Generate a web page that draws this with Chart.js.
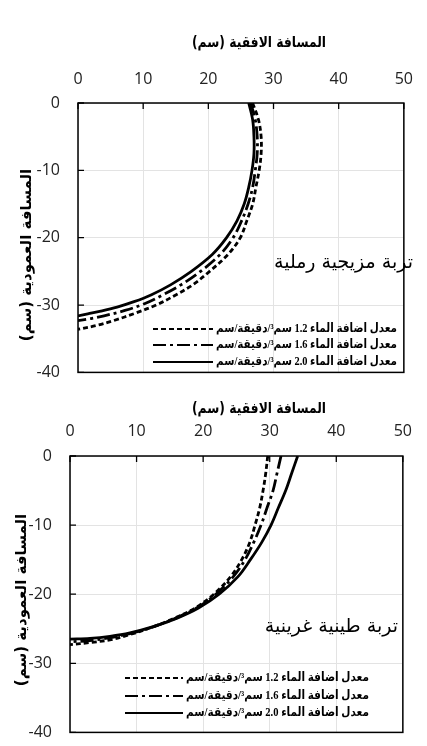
<!DOCTYPE html>
<html>
<head>
<meta charset="utf-8">
<script src="https://cdn.jsdelivr.net/npm/chart.js@4.4.1/dist/chart.umd.min.js"></script>
<style>
html, body { margin: 0; padding: 0; background: #fff; overflow: hidden; }
#sandy { position: absolute; left: 0; top: 0; }
#clay { position: absolute; left: 0; top: 390px; }
</style>
</head>
<body>
<canvas id="sandy" width="427" height="400"></canvas>
<canvas id="clay" width="427" height="370"></canvas>
<script>
// axis ranges (cm)
const xTickValues = [0, 10, 20, 30, 40, 50];
const yTickValues = [0, -10, -20, -30, -40];

const rateLabels = [
    'معدل اضافة الماء 1.2 سم³/دقيقة/سم',
    'معدل اضافة الماء 1.6 سم³/دقيقة/سم',
    'معدل اضافة الماء 2.0 سم³/دقيقة/سم'
];
const xTitle = 'المسافة الافقية (سم)';
const yTitle = 'المسافة العمودية (سم)';
const sandyName = 'تربة مزيجية رملية';
const clayName = 'تربة طينية غرينية';

// sandy loam wetting fronts: depth (y) and horizontal distance (x)
const sandyY12 = [0, -2.5, -5, -7.5, -10, -12.5, -15, -17.5, -20, -22.5, -25, -27, -28.5, -30, -31.2, -32.3, -33, -33.6];
const sandyX12 = [26.8, 27.7, 28.1, 28.1, 27.8, 27.3, 26.8, 25.9, 24.9, 23.0, 20.2, 17.6, 15.0, 12.0, 8.8, 5.5, 3.0, 0];
const sandyY16 = [0, -2.5, -5, -7.5, -10, -12.5, -15, -17.5, -20, -22.5, -25, -27, -28.5, -29.8, -30.8, -31.6, -32, -32.3];
const sandyX16 = [26.5, 27.2, 27.5, 27.5, 27.2, 26.8, 26.1, 25.1, 23.8, 21.8, 18.8, 15.8, 13.0, 10.2, 7.2, 4.0, 2.0, 0];
const sandyY20 = [0, -2.5, -5, -7.5, -10, -12.5, -15, -17.5, -20, -22.5, -25, -27, -28.5, -29.5, -30.3, -30.9, -31.3, -31.6];
const sandyX20 = [26.2, 26.8, 27.0, 27.0, 26.7, 26.2, 25.5, 24.4, 22.8, 20.6, 17.4, 14.2, 11.2, 8.6, 6.0, 3.5, 1.5, 0];

// silty clay wetting fronts
const clayY12 = [0, -2.5, -5, -7.5, -10, -12.5, -15, -17.5, -20, -22, -23.5, -24.9, -25.9, -26.6, -27, -27.3];
const clayX12 = [29.7, 29.4, 29.0, 28.5, 27.8, 27.0, 25.8, 24.1, 21.6, 18.8, 15.6, 12.0, 8.8, 6.0, 3.0, 0];
const clayY16 = [0, -2.5, -5, -7.5, -10, -12.5, -15, -17.5, -20, -22, -23.5, -24.8, -25.7, -26.3, -26.7, -26.9];
const clayX16 = [31.7, 31.1, 30.5, 29.6, 28.7, 27.6, 26.3, 24.5, 21.9, 19.0, 15.8, 12.3, 9.0, 6.0, 3.0, 0];
const clayY20 = [0, -2.5, -5, -7.5, -10, -12.5, -15, -17.5, -20, -22, -23.5, -24.7, -25.6, -26.1, -26.4, -26.5];
const clayX20 = [34.2, 33.3, 32.4, 31.3, 30.2, 28.8, 27.1, 25.2, 22.4, 19.3, 16.0, 12.5, 9.0, 6.0, 3.0, 0];

const dashes = [[5, 3], [13, 4, 3, 4], []];

function toPoints(xs, ys) {
    return ys.map((y, i) => ({ x: xs[i], y: y }));
}

function makeDatasets(series) {
    return series.map((s, i) => ({
        label: rateLabels[i],
        data: toPoints(s[0], s[1]),
        showLine: true,
        borderColor: '#000',
        borderWidth: 2.8,
        borderDash: dashes[i],
        pointRadius: 0,
        tension: 0.35,
        fill: false
    }));
}

// frame, inner tick marks, legend, soil name and axis titles
const decorPlugin = {
    id: 'decor',
    afterDatasetsDraw(chart, args, o) {
        const ctx = chart.ctx;
        const a = chart.chartArea;
        const xs = chart.scales.x, ys = chart.scales.y;
        ctx.save();
        ctx.strokeStyle = '#000';
        ctx.setLineDash([]);
        ctx.lineWidth = 1.5;
        ctx.strokeRect(a.left, a.top, a.right - a.left, a.bottom - a.top);

        ctx.lineWidth = 1.3;
        ctx.beginPath();
        xs.ticks.forEach(t => {
            const px = xs.getPixelForValue(t.value);
            ctx.moveTo(px, a.top);
            ctx.lineTo(px, a.top + 6);
        });
        ys.ticks.forEach(t => {
            const py = ys.getPixelForValue(t.value);
            ctx.moveTo(a.left, py);
            ctx.lineTo(a.left + 6, py);
        });
        ctx.stroke();

        ctx.fillStyle = '#000';
        ctx.direction = 'rtl';
        ctx.textBaseline = 'middle';
        chart.data.datasets.forEach((ds, i) => {
            const ry = o.legendY[i];
            ctx.setLineDash(ds.borderDash);
            ctx.lineWidth = 2;
            ctx.beginPath();
            ctx.moveTo(o.legendLine[0], ry);
            ctx.lineTo(o.legendLine[1], ry);
            ctx.stroke();
            ctx.setLineDash([]);
            ctx.font = 'bold 12.5px "Liberation Serif", "DejaVu Sans"';
            ctx.textAlign = 'right';
            ctx.fillText(ds.label, o.legendRight, ry, o.legendRight - o.legendLine[1] - 3);
        });

        ctx.font = '19px "DejaVu Sans"';
        ctx.textAlign = 'right';
        ctx.fillText(o.name, o.namePos[0], o.namePos[1], 146);

        ctx.font = 'bold 15px "DejaVu Sans"';
        ctx.textAlign = 'center';
        ctx.fillText(xTitle, o.xTitlePos[0], o.xTitlePos[1], 134);
        ctx.translate(o.yTitlePos[0], o.yTitlePos[1]);
        ctx.rotate(-Math.PI / 2);
        ctx.fillText(yTitle, 0, 0, 184);
        ctx.restore();
    }
};

function makeChart(canvas, series, layout) {
    return new Chart(canvas.getContext('2d'), {
        type: 'scatter',
        data: { datasets: makeDatasets(series) },
        options: {
            responsive: false,
            animation: false,
            layout: { padding: { left: 0, top: 0, right: layout.right, bottom: layout.bottom } },
            plugins: {
                legend: { display: false },
                tooltip: { enabled: false },
                decor: layout.decor
            },
            scales: {
                x: {
                    type: 'linear',
                    position: 'top',
                    min: xTickValues[0],
                    max: xTickValues[xTickValues.length - 1],
                    ticks: { stepSize: 10, padding: layout.xTickPad, color: '#222', font: { family: '"Open Sans"', size: 16 } },
                    grid: { color: '#e3e3e3', lineWidth: 1, drawTicks: false },
                    border: { display: false },
                    afterFit: s => { s.height = layout.top; }
                },
                y: {
                    type: 'linear',
                    min: yTickValues[yTickValues.length - 1],
                    max: yTickValues[0],
                    ticks: { stepSize: 10, padding: 18, color: '#222', font: { family: '"Open Sans"', size: 16 } },
                    grid: { color: '#e3e3e3', lineWidth: 1, drawTicks: false },
                    border: { display: false },
                    afterFit: s => { s.width = layout.left; }
                }
            }
        },
        plugins: [decorPlugin]
    });
}

makeChart(document.getElementById('sandy'),
    [[sandyX12, sandyY12], [sandyX16, sandyY16], [sandyX20, sandyY20]],
    {
        left: 78, top: 103, right: 10, bottom: 17, xTickPad: 14,
        decor: {
            legendY: [329, 345, 362], legendLine: [153, 213], legendRight: 397,
            name: sandyName, namePos: [413, 263],
            xTitlePos: [259, 43], yTitlePos: [27, 255]
        }
    });

makeChart(document.getElementById('clay'),
    [[clayX12, clayY12], [clayX16, clayY16], [clayX20, clayY20]],
    {
        left: 70, top: 66, right: 16, bottom: 18, xTickPad: 15,
        decor: {
            legendY: [288, 306, 323], legendLine: [125, 183], legendRight: 369,
            name: clayName, namePos: [398, 237],
            xTitlePos: [259, 19], yTitlePos: [22, 210]
        }
    });
</script>
</body>
</html>
